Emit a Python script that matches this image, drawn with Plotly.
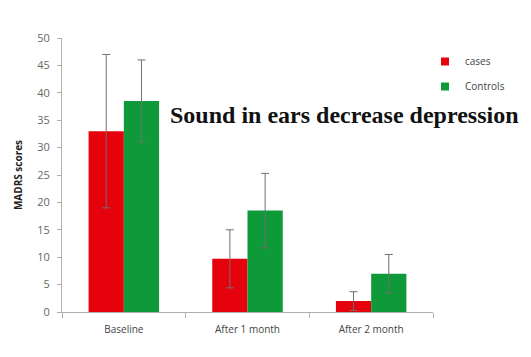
import plotly.graph_objects as go

categories = ["Baseline", "After 1 month", "After 2 month"]
cases = [33, 9.7, 2]
cases_err = [14, 5.3, 1.7]
controls = [38.5, 18.5, 7]
controls_err = [7.5, 6.8, 3.5]
y_ticks = [0, 5, 10, 15, 20, 25, 30, 35, 40, 45, 50]

RED = "#e5020c"
GREEN = "#0f9a3a"

fig = go.Figure()
fig.add_trace(go.Bar(
    x=categories, y=cases, name="cases", showlegend=False,
    marker=dict(color=RED, line=dict(width=0)),
    error_y=dict(type="data", array=cases_err, visible=True,
                 color="#707070", thickness=1, width=4),
))
fig.add_trace(go.Bar(
    x=categories, y=controls, name="Controls", showlegend=False,
    marker=dict(color=GREEN, line=dict(width=0)),
    error_y=dict(type="data", array=controls_err, visible=True,
                 color="#707070", thickness=1, width=4),
))
# legend entries with small square swatches
fig.add_trace(go.Scatter(x=[None], y=[None], mode="markers", name="cases",
                         legendgroup="a",
                         marker=dict(symbol="square", size=8, color=RED)))
fig.add_trace(go.Scatter(x=[None], y=[None], mode="markers", name="Controls",
                         legendgroup="b",
                         marker=dict(symbol="square", size=8, color=GREEN)))

fig.update_layout(
    width=531, height=357,
    margin=dict(l=62, r=98, t=38, b=45, autoexpand=False),
    paper_bgcolor="white", plot_bgcolor="white",
    barmode="group", bargap=0.43, bargroupgap=0,
    font=dict(family="Open Sans, Liberation Sans, sans-serif", size=10, color="#555555"),
    showlegend=True,
    legend=dict(xref="container", yref="container", x=425/531, y=1-47/357,
                xanchor="left", yanchor="top",
                font=dict(size=10, color="#444444"),
                itemwidth=30, tracegroupgap=6, bgcolor="rgba(0,0,0,0)"),
    xaxis=dict(
        showline=True, linecolor="#b0b0b0", linewidth=1,
        ticks="outside", tickson="boundaries", ticklen=5, tickcolor="#b0b0b0",
        ticklabelstandoff=8,
        tickfont=dict(size=10, color="#444444"), showgrid=False,
    ),
    yaxis=dict(
        range=[0, 50], tickvals=y_ticks,
        showline=True, linecolor="#b0b0b0", linewidth=1,
        ticks="outside", ticklen=4, tickcolor="#b0b0b0",
        ticklabelstandoff=5,
        tickfont=dict(size=11, color="#666666"), showgrid=False, zeroline=False,
        title=dict(text="<b>MADRS scores</b>", font=dict(size=10, color="#222222"), standoff=12),
    ),
    annotations=[dict(
        text="<b>Sound in ears decrease depression</b>",
        xref="paper", yref="paper", x=(168 - 62) / 371, y=(312 - 115) / 274,
        xanchor="left", yanchor="middle", showarrow=False,
        font=dict(family="Liberation Serif, serif", size=24, color="#111111"),
    )],
)
fig.write_html("out.html")
